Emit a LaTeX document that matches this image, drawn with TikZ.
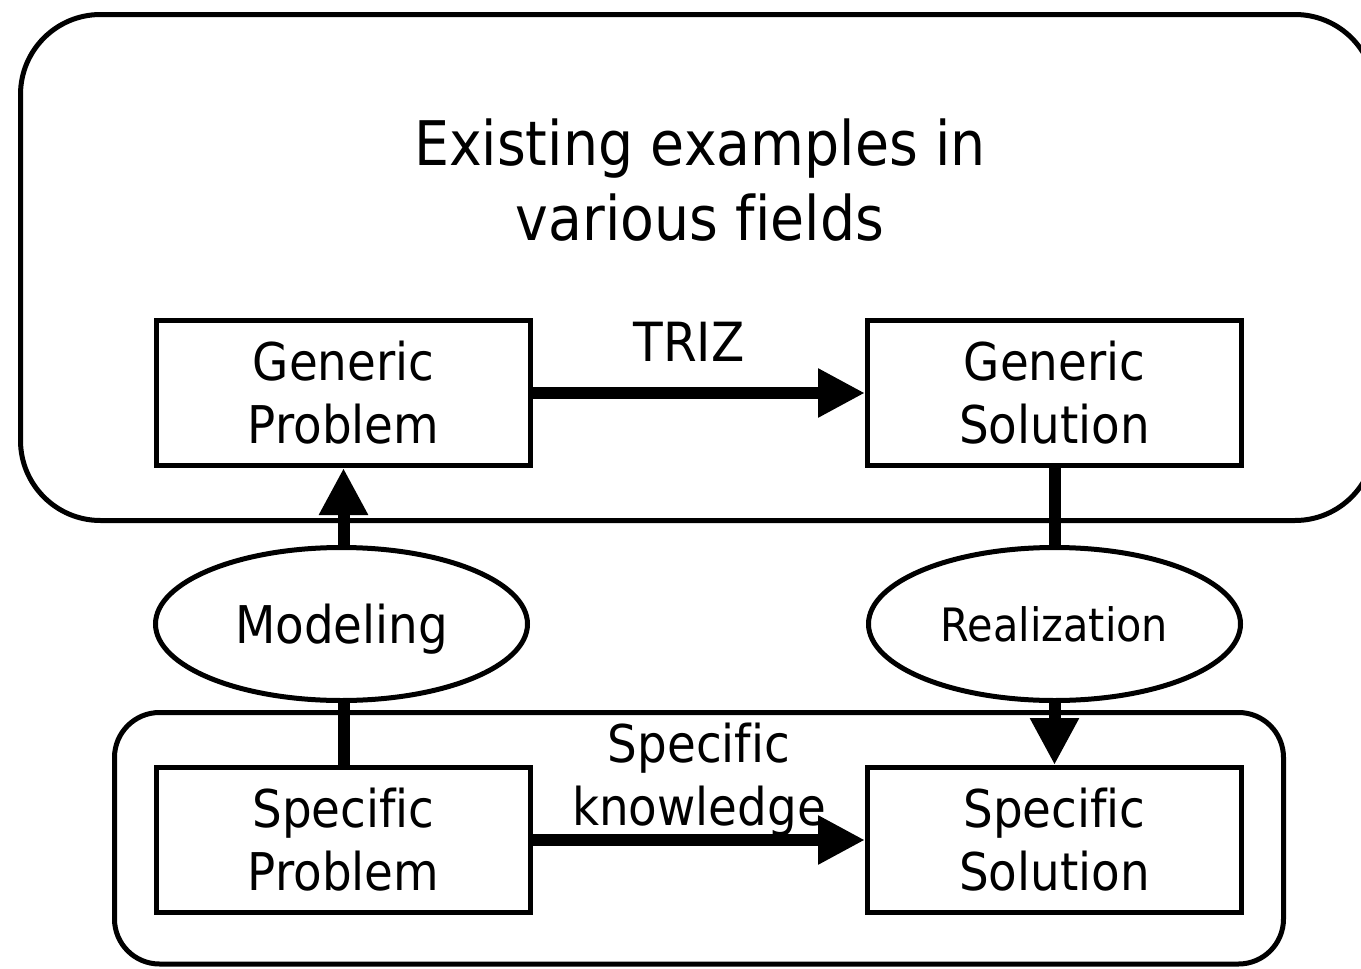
\documentclass[tikz,border=0pt]{standalone}
\usepackage{fontspec}
\setmainfont{DejaVu Sans}[FakeStretch=0.9,Ligatures=NoCommon]
\usetikzlibrary{arrows.meta,shapes.geometric}
\begin{document}
\begin{tikzpicture}[x=1pt,y=-1pt,
  box/.style={draw,line width=5pt,minimum width=374pt,minimum height=145pt,inner sep=0pt,align=center,font=\fontsize{52}{63}\selectfont},
  ell/.style={draw,ellipse,line width=5pt,minimum width=372pt,minimum height=153pt,inner sep=0pt,text depth=0pt},
  lbl/.style={align=center,inner sep=0pt,font=\fontsize{52}{63}\selectfont},
  conn/.style={line width=12pt},
  arr/.style={line width=12pt,-{Triangle[length=47pt,width=46pt]}},
  cont/.style={line width=5pt}]
\useasboundingbox (0,0) rectangle (1361,969);
% containers
\draw[cont,rounded corners=80pt] (20.5,14.5) rectangle (1375,520.5);
\draw[cont,rounded corners=45pt] (114.5,712.5) rectangle (1283.5,964);
% title
\node[lbl,font=\fontsize{61.5}{75}\selectfont] (title) at (700,180) {Existing examples in\\various fields};
% boxes
\node[box] (gp) at (343.5,393) {Generic\\Problem};
\node[box] (gs) at (1054.5,393) {Generic\\Solution};
\node[box] (sp) at (343.5,840) {Specific\\Problem};
\node[box] (ss) at (1054.5,840) {Specific\\Solution};
% ellipses
\node[ell,font=\fontsize{52}{63}\selectfont] (mod) at (341.5,624) {Modeling};
\node[ell,font=\fontsize{46}{56}\selectfont] (real) at (1054.5,624) {Realization};
% labels
\node[lbl,font=\fontsize{54}{63}\selectfont] (triz) at (689,342) {TRIZ};
\node[lbl] (sk) at (699,780) {Specific\\knowledge};
% connectors
\draw[arr] (gp.east) -- (gs.west);
\draw[arr] (sp.east) -- (ss.west);
\draw[conn] (sp.north) -- (sp.north |- mod.south);
\draw[arr] (gp.south |- mod.north) -- (gp.south);
\draw[conn] (gs.south) -- (real.north);
\draw[arr] (real.south) -- (ss.north);
\end{tikzpicture}
\end{document}
